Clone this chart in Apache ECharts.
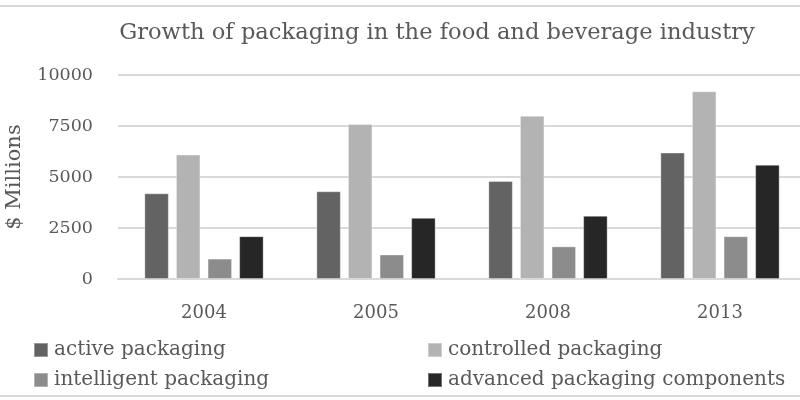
<!DOCTYPE html>
<html>
<head>
<meta charset="utf-8">
<script src="https://cdn.jsdelivr.net/npm/echarts@6/dist/echarts.min.js"></script>
<style>
  html, body { margin: 0; padding: 0; background: #fff; }
  #main { width: 800px; height: 400px; }
</style>
</head>
<body>
<div id="main"></div>
<script>
// categories and values
var years = ['2004', '2005', '2008', '2013'];
var activePackaging = [4200, 4300, 4800, 6200];
var controlledPackaging = [6100, 7600, 8000, 9200];
var intelligentPackaging = [1000, 1200, 1600, 2100];
var advancedComponents = [2100, 3000, 3100, 5600];
var seriesNames = ['active packaging', 'controlled packaging', 'intelligent packaging', 'advanced packaging components'];
var seriesColors = ['#636363', '#b3b3b3', '#8c8c8c', '#262626'];

var textFont = 'DejaVu Serif';
var textColor = '#595959';

var myChart = echarts.init(document.getElementById('main'));

function legendAt(name, left, top) {
    return {
        data: [name],
        left: left,
        top: top,
        itemWidth: 14,
        itemHeight: 14,
        icon: 'rect',
        padding: 0,
        textStyle: { fontFamily: textFont, fontSize: 20, color: textColor, padding: [0, 0, 0, 1] }
    };
}

function barSeries(i, data) {
    return {
        name: seriesNames[i],
        type: 'bar',
        data: data,
        barWidth: 24.5,
        barGap: '29%',
        itemStyle: { color: seriesColors[i], borderColor: 'rgba(255,255,255,0.35)', borderWidth: 1 }
    };
}

option = {
    animation: false,
    title: {
        text: 'Growth of packaging in the food and beverage industry',
        left: 432,
        textAlign: 'center',
        top: 17,
        textStyle: { fontFamily: textFont, fontSize: 22.6, fontWeight: 'normal', color: textColor }
    },
    graphic: [{
        type: 'rect',
        shape: { x: -10, y: 6, width: 820, height: 390 },
        style: { fill: 'none', stroke: '#d9d9d9', lineWidth: 2 },
        silent: true
    }],
    legend: [
        legendAt(seriesNames[0], 33, 340),
        legendAt(seriesNames[1], 427, 340),
        legendAt(seriesNames[2], 33, 370),
        legendAt(seriesNames[3], 427, 370)
    ],
    grid: { left: 118, top: 75, width: 688, bottom: 121, outerBoundsMode: 'none', containLabel: false },
    xAxis: {
        type: 'category',
        data: years,
        axisTick: { show: false },
        axisLine: { lineStyle: { color: '#d9d9d9', width: 2 } },
        axisLabel: { fontFamily: textFont, fontSize: 18, color: textColor, margin: 25 }
    },
    yAxis: {
        type: 'value',
        min: 0,
        max: 10000,
        interval: 2500,
        name: '$ Millions',
        nameLocation: 'middle',
        nameGap: 93,
        nameTextStyle: { fontFamily: textFont, fontSize: 21, color: textColor },
        axisLine: { show: false },
        axisTick: { show: false },
        splitLine: { lineStyle: { color: '#d9d9d9', width: 2 } },
        axisLabel: {
            fontFamily: textFont, fontSize: 17.5, color: textColor, margin: 25,
            formatter: function (v) { return String(v); }
        }
    },
    series: [
        barSeries(0, activePackaging),
        barSeries(1, controlledPackaging),
        barSeries(2, intelligentPackaging),
        barSeries(3, advancedComponents)
    ]
};

myChart.setOption(option);
</script>
</body>
</html>
